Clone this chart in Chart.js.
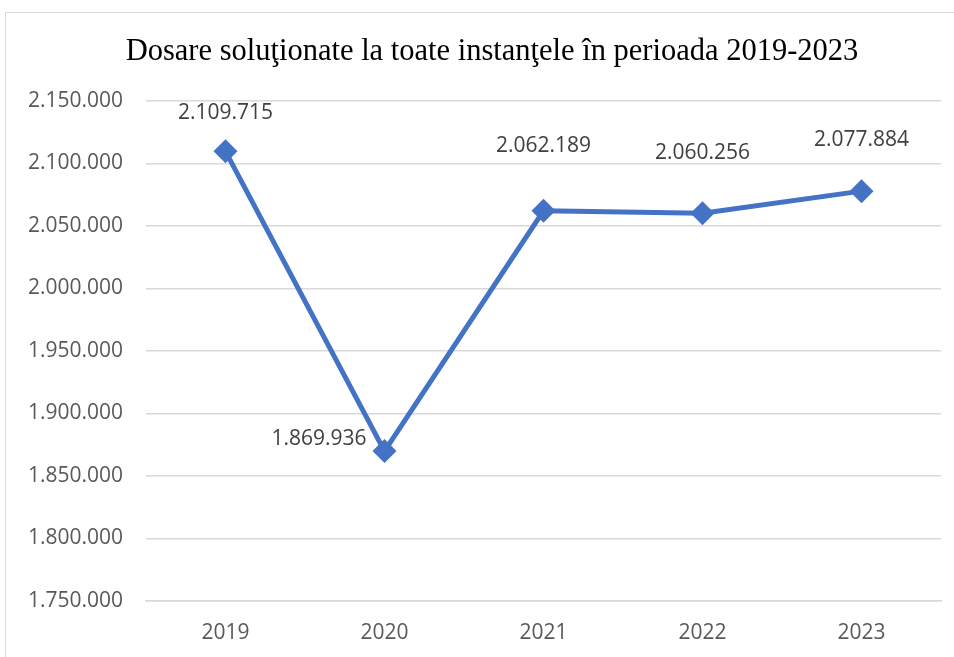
<!DOCTYPE html>
<html>
<head>
<meta charset="utf-8">
<script src="https://cdn.jsdelivr.net/npm/chart.js"></script>
<style>
    html, body { margin: 0; padding: 0; background: #fff; overflow: hidden; }
    #wrap { position: relative; width: 954px; height: 657px; }
    #frame { position: absolute; left: 5px; top: 12px; width: 1000px; height: 700px; border: 1.5px solid #d9d9d9; box-sizing: border-box; }
    #title { position: absolute; left: 0; top: 31px; width: 984px; text-align: center; font: 30.5px "Liberation Serif", serif; color: #000; line-height: 38px; white-space: nowrap; }
    canvas { position: absolute; left: 0; top: 0; }
</style>
</head>
<body>
<div id="wrap">
    <div id="frame"></div>
    <canvas id="chart" width="954" height="657"></canvas>
    <div id="title"></div>
</div>
<script>
const years = ['2019', '2020', '2021', '2022', '2023'];
const dosare = [2109715, 1869936, 2062189, 2060256, 2077884];
const chartTitle = 'Dosare soluţionate la toate instanţele în perioada 2019-2023';

document.getElementById('title').textContent = chartTitle;

// format like 2.109.715
function fmt(v) {
    return v.toString().replace(/\B(?=(\d{3})+(?!\d))/g, '.');
}

// --- value labels, Excel style (2020 sits on the left) ---
const valueLabels = {
    id: 'valueLabels',
    afterDatasetsDraw(chart) {
        const ctx = chart.ctx;
        const meta = chart.getDatasetMeta(0);
        const lift = [38, 0, 65, 60, 51];
        ctx.save();
        ctx.font = '21px "Open Sans"';
        ctx.fillStyle = '#404040';
        ctx.textBaseline = 'middle';
        meta.data.forEach((pt, i) => {
            const txt = fmt(dosare[i]);
            if (i === 1) {
                ctx.textAlign = 'right';
                ctx.fillText(txt, pt.x - 18, pt.y - 12);
            } else {
                ctx.textAlign = 'center';
                ctx.fillText(txt, pt.x, pt.y - lift[i]);
            }
        });
        ctx.restore();
    }
};

new Chart(document.getElementById('chart'), {
    type: 'line',
    data: {
        labels: years,
        datasets: [{
            data: dosare,
            borderColor: '#4472C4',
            backgroundColor: '#4472C4',
            borderWidth: 5,
            pointStyle: 'rectRot',
            pointRadius: 12,
            pointHoverRadius: 12,
            pointBorderWidth: 0,
            tension: 0
        }]
    },
    options: {
        responsive: false,
        animation: false,
        layout: { padding: { top: 101, right: 13, bottom: 0, left: 0 } },
        plugins: {
            legend: { display: false },
            tooltip: { enabled: false },
            title: { display: false }
        },
        scales: {
            x: {
                offset: true,
                afterFit(scale) { scale.height = 56; },
                grid: { display: false, drawTicks: false },
                border: { display: true, color: '#d9d9d9', width: 1.5 },
                ticks: { color: '#595959', font: { family: '"Open Sans"', size: 21 }, padding: 19 }
            },
            y: {
                min: 1750000,
                max: 2150000,
                afterFit(scale) { scale.width = 146; },
                grid: { color: '#d9d9d9', lineWidth: 1.5, drawTicks: false },
                border: { display: false },
                ticks: {
                    stepSize: 50000,
                    color: '#595959',
                    font: { family: '"Open Sans"', size: 21 },
                    padding: 23,
                    callback: v => fmt(v)
                }
            }
        }
    },
    plugins: [valueLabels]
});
</script>
</body>
</html>
